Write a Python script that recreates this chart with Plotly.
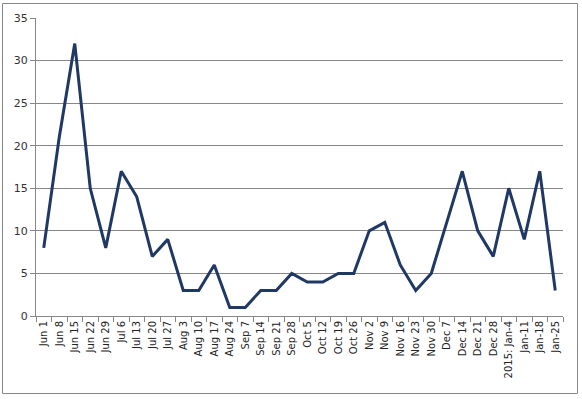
import plotly.graph_objects as go

weeks = ["Jun 1", "Jun 8", "Jun 15", "Jun 22", "Jun 29", "Jul 6", "Jul 13", "Jul 20",
         "Jul 27", "Aug 3", "Aug 10", "Aug 17", "Aug 24", "Sep 7", "Sep 14", "Sep 21",
         "Sep 28", "Oct 5", "Oct 12", "Oct 19", "Oct 26", "Nov 2", "Nov 9", "Nov 16",
         "Nov 23", "Nov 30", "Dec 7", "Dec 14", "Dec 21", "Dec 28", "2015: Jan-4",
         "Jan-11", "Jan-18", "Jan-25"]
counts = [8, 21, 32, 15, 8, 17, 14, 7, 9, 3, 3, 6, 1, 1, 3, 3, 5, 4, 4, 5, 5, 10, 11, 6,
          3, 5, 11, 17, 10, 7, 15, 9, 17, 3]
y_ticks = [0, 5, 10, 15, 20, 25, 30, 35]

W, H = 582, 399
L, R, T, B = 36, 19, 18, 83
pw, ph = W - L - R, H - T - B

fig = go.Figure(go.Scatter(x=weeks, y=counts, mode="lines",
                           line=dict(color="#1f3864", width=3)))

def px(x):
    return (x - L) / pw

def py(y):
    return (H - B - y) / ph

# outer chart frame
fig.add_shape(type="rect", xref="paper", yref="paper",
              x0=px(2.5), x1=px(577.5), y0=py(393.5), y1=py(3.5),
              line=dict(color="#878787", width=1), layer="above")

font = dict(family="DejaVu Sans", size=10, color="#222222")

fig.update_layout(
    width=W, height=H,
    margin=dict(l=L, r=R, t=T, b=B, autoexpand=False),
    plot_bgcolor="white", paper_bgcolor="white",
    showlegend=False,
    font=font,
    xaxis=dict(type="category", tickangle=-90, ticks="outside", tickson="boundaries",
               ticklen=5, tickcolor="#878787", showline=True, linecolor="#878787",
               linewidth=1, showgrid=False,
               tickfont=dict(family="DejaVu Sans", size=10, color="#222222"),
               range=[-0.5, len(weeks) - 0.5], automargin=False),
    yaxis=dict(range=[0, 35], tickvals=y_ticks, ticks="outside", ticklen=5,
               tickcolor="#878787", showline=True, linecolor="#878787", linewidth=1,
               showgrid=True, gridcolor="#878787", gridwidth=1, zeroline=False,
               tickfont=dict(family="DejaVu Sans", size=11, color="#333333"),
               automargin=False),
)

fig.write_html("out.html", config={"displayModeBar": False},
               post_script="document.body.style.margin='0';document.body.style.overflow='hidden';")
